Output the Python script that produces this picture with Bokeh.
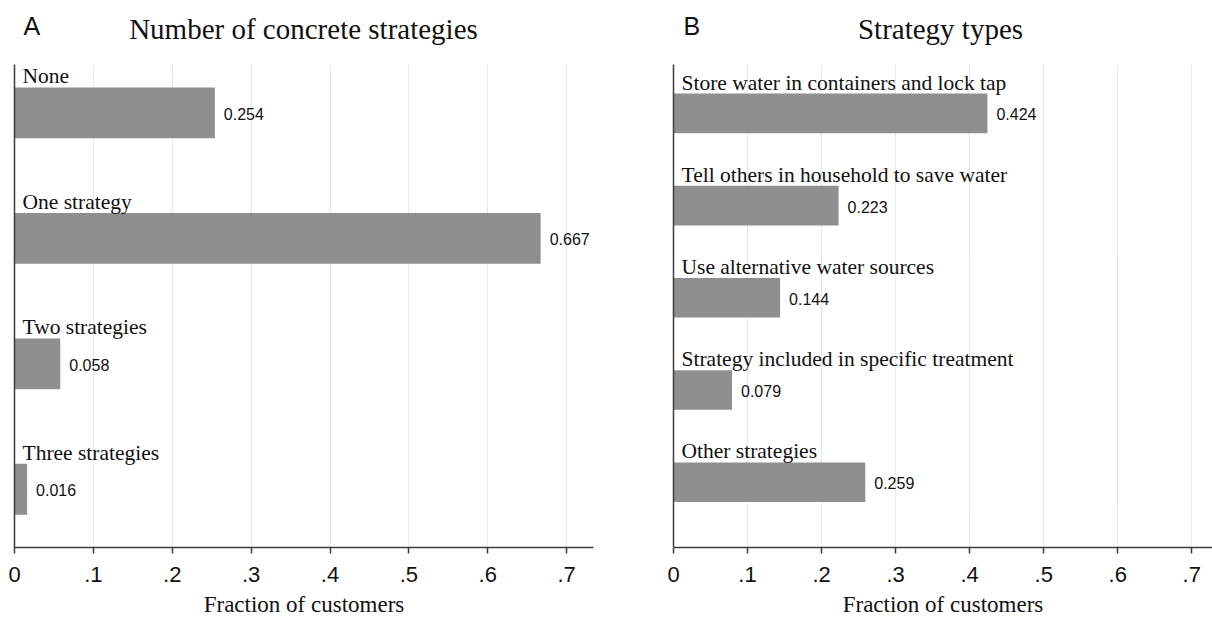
from bokeh.plotting import figure
from bokeh.layouts import row, column
from bokeh.models import Range1d, FixedTicker, ColumnDataSource
from bokeh.core.properties import value
from bokeh.embed import file_html
from bokeh.resources import INLINE

# ---- data ----
A_CATEGORIES = ["None", "One strategy", "Two strategies", "Three strategies"]
A_VALUES = [0.254, 0.667, 0.058, 0.016]

B_CATEGORIES = [
    "Store water in containers and lock tap",
    "Tell others in household to save water",
    "Use alternative water sources",
    "Strategy included in specific treatment",
    "Other strategies",
]
B_VALUES = [0.424, 0.223, 0.144, 0.079, 0.259]

X_TICKS = [0, 0.1, 0.2, 0.3, 0.4, 0.5, 0.6, 0.7]
X_TICK_LABELS = ["0", ".1", ".2", ".3", ".4", ".5", ".6", ".7"]

A_TITLE = "Number of concrete strategies"
B_TITLE = "Strategy types"
X_LABEL = "Fraction of customers"

SERIF = "Liberation Serif"
SANS = "Liberation Sans"
AXIS_COLOR = "#3c3c3c"
BAR_COLOR = "#8f8f8f"
GRID_COLOR = "#e2ecef"
TEXT_COLOR = "#111111"

TITLE_H = 64
H = 555
BORDER_BOTTOM = 70


def title_fig(width, letter, title, title_x, letter_x):
    t = figure(width=width, height=TITLE_H, output_backend="svg", toolbar_location=None,
               x_range=Range1d(0, width), y_range=Range1d(0, TITLE_H),
               x_axis_type=None, y_axis_type=None, min_border=0)
    t.outline_line_color = None
    t.grid.visible = False
    t.text(x=[title_x], y=[TITLE_H - 28], text=[title], text_align="center",
           text_baseline="middle", text_font=value(SERIF), text_font_size="29px",
           text_color=TEXT_COLOR)
    t.text(x=[letter_x], y=[TITLE_H - 25], text=[letter], text_align="left",
           text_baseline="middle", text_font=value(SANS), text_font_size="25px",
           text_color=TEXT_COLOR)
    return t


def panel(cats, vals, width, b_left, b_right, x_max, pad_top, pad_bottom, bar_h):
    n = len(cats)
    idx = list(range(n))
    src = ColumnDataSource(dict(
        y=idx,
        ytop=[i - bar_h / 2 for i in idx],
        v=vals,
        cat=cats,
        vlab=["%.3f" % v for v in vals],
    ))
    p = figure(width=width, height=H, output_backend="svg", toolbar_location=None,
               x_range=Range1d(0, x_max),
               y_range=Range1d(start=n - 1 + pad_bottom, end=-pad_top),
               min_border_left=b_left, min_border_right=b_right,
               min_border_top=0, min_border_bottom=BORDER_BOTTOM)
    p.outline_line_color = None
    p.ygrid.visible = False
    p.xgrid.grid_line_color = GRID_COLOR
    p.xgrid.grid_line_width = 1.2

    p.xaxis.ticker = FixedTicker(ticks=X_TICKS)
    p.xaxis.major_label_overrides = {t: l for t, l in zip(X_TICKS, X_TICK_LABELS)}
    p.xaxis.major_label_text_font = SANS
    p.xaxis.major_label_text_font_size = "22px"
    p.xaxis.major_label_text_color = TEXT_COLOR
    p.xaxis.major_label_standoff = 13
    p.xaxis.axis_line_color = AXIS_COLOR
    p.xaxis.axis_line_width = 1.5
    p.xaxis.major_tick_line_color = AXIS_COLOR
    p.xaxis.major_tick_line_width = 1.5
    p.xaxis.major_tick_in = 0
    p.xaxis.major_tick_out = 6
    p.xaxis.minor_tick_line_color = None
    p.xaxis.axis_label = X_LABEL
    p.xaxis.axis_label_text_font = SERIF
    p.xaxis.axis_label_text_font_style = "normal"
    p.xaxis.axis_label_text_font_size = "23px"
    p.xaxis.axis_label_text_color = TEXT_COLOR
    p.xaxis.axis_label_standoff = 7

    p.yaxis.ticker = FixedTicker(ticks=[])
    p.yaxis.major_label_text_font_size = "0px"
    p.yaxis.major_label_standoff = 0
    p.yaxis.major_tick_line_color = None
    p.yaxis.minor_tick_line_color = None
    p.yaxis.axis_line_color = AXIS_COLOR
    p.yaxis.axis_line_width = 1.5

    p.hbar(y="y", left=0, right="v", height=bar_h, source=src,
           fill_color=BAR_COLOR, line_color=None)
    p.text(x=0, y="ytop", text="cat", source=src, x_offset=8, y_offset=1,
           text_font=value(SERIF), text_font_size="21.5px", text_color=TEXT_COLOR,
           text_baseline="bottom", text_align="left")
    p.text(x="v", y="y", text="vlab", source=src, x_offset=9, y_offset=1,
           text_font=value(SANS), text_font_size="16px", text_color=TEXT_COLOR,
           text_baseline="middle", text_align="left")
    return p


WA, WB = 640, 572
tA = title_fig(WA, "A", A_TITLE, title_x=303, letter_x=23)
tB = title_fig(WB, "B", B_TITLE, title_x=300, letter_x=43)

pA = panel(A_CATEGORIES, A_VALUES, width=WA, b_left=14, b_right=47,
           x_max=0.734, pad_top=0.385, pad_bottom=0.464, bar_h=0.405)
pB = panel(B_CATEGORIES, B_VALUES, width=WB, b_left=33, b_right=0,
           x_max=0.728, pad_top=0.53, pad_bottom=0.708, bar_h=0.43)

layout = column(row(tA, tB), row(pA, pB))
open("out.html", "w").write(file_html(layout, INLINE))
